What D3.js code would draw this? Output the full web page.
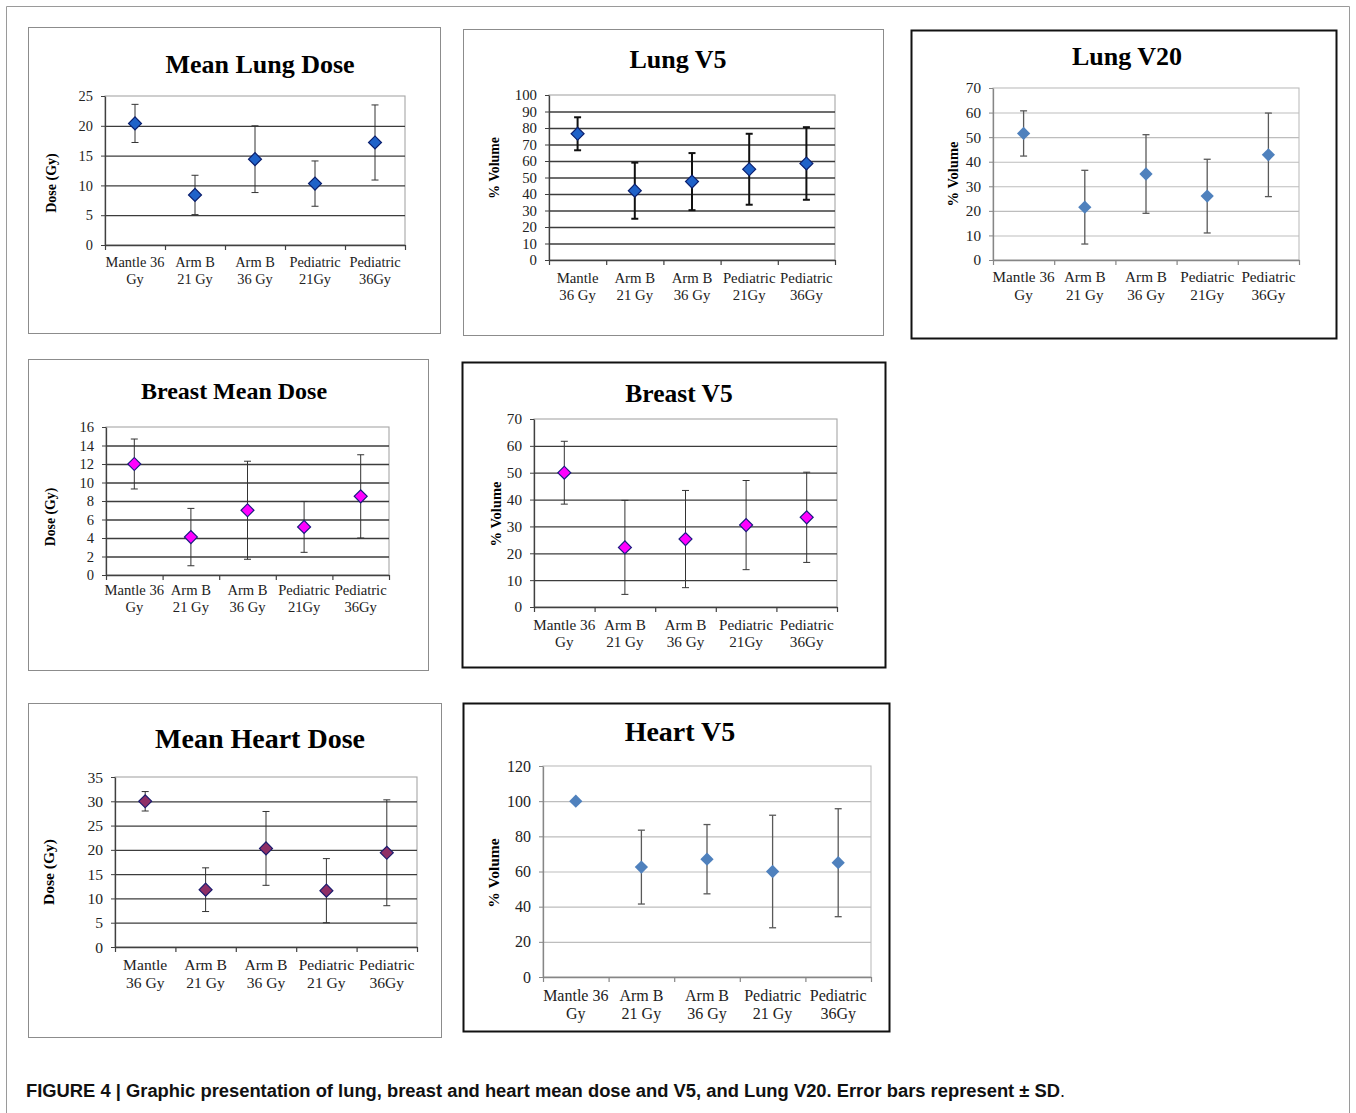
<!DOCTYPE html>
<html>
<head>
<meta charset="utf-8">
<script src="https://cdn.jsdelivr.net/npm/d3@7"></script>
<style>
  body { margin: 0; background: #fff; }
  svg { display: block; }
</style>
</head>
<body>
<svg id="fig" width="1356" height="1113"></svg>
<script>
// category labels (line breaks as in the original panels)
const catsMantleGy   = ["Mantle 36\nGy", "Arm B\n21 Gy", "Arm B\n36 Gy", "Pediatric\n21Gy", "Pediatric\n36Gy"];
const catsMantle36   = ["Mantle\n36 Gy", "Arm B\n21 Gy", "Arm B\n36 Gy", "Pediatric\n21Gy", "Pediatric\n36Gy"];
const catsHeartDose  = ["Mantle\n36 Gy", "Arm B\n21 Gy", "Arm B\n36 Gy", "Pediatric\n21 Gy", "Pediatric\n36Gy"];
const catsHeartV5    = ["Mantle 36\nGy", "Arm B\n21 Gy", "Arm B\n36 Gy", "Pediatric\n21 Gy", "Pediatric\n36Gy"];

// means and SD
const lungDoseMean = [20.4, 8.4, 14.4, 10.3, 17.2];
const lungDoseSD   = [3.2, 3.3, 5.6, 3.8, 6.3];
const lungDoseTicks = [0, 5, 10, 15, 20, 25];

const lungV5Mean = [76.5, 42, 47.5, 55, 58.5];
const lungV5SD   = [10, 17, 17.3, 21.5, 22];
const lungV5Ticks = [0, 10, 20, 30, 40, 50, 60, 70, 80, 90, 100];

const lungV20Mean = [51.5, 21.5, 35, 26, 42.8];
const lungV20SD   = [9.2, 15, 16, 15, 17];
const lungV20Ticks = [0, 10, 20, 30, 40, 50, 60, 70];

const breastDoseMean = [12, 4.1, 7.0, 5.2, 8.5];
const breastDoseSD   = [2.7, 3.1, 5.3, 2.75, 4.5];
const breastDoseTicks = [0, 2, 4, 6, 8, 10, 12, 14, 16];

const breastV5Mean = [50, 22.2, 25.3, 30.5, 33.4];
const breastV5SD   = [11.7, 17.5, 18.1, 16.6, 16.8];
const breastV5Ticks = [0, 10, 20, 30, 40, 50, 60, 70];

const heartDoseMean = [30, 11.8, 20.3, 11.6, 19.4];
const heartDoseSD   = [2, 4.5, 7.6, 6.6, 10.9];
const heartDoseTicks = [0, 5, 10, 15, 20, 25, 30, 35];

const heartV5Mean = [100, 62.5, 67, 60, 65];
const heartV5SD   = [0, 21, 19.7, 32, 30.7];
const heartV5Ticks = [0, 20, 40, 60, 80, 100, 120];

const serif = "'Liberation Serif', 'Times New Roman', serif";

// Excel 2003 look vs Excel 2007 look
const oldStyle = { grid: "#3c3c3c", gridW: 1.3, border: "#a6a6a6", axis: "#404040", bar: "#333", barW: 1, cap: 3.5 };
const newStyle = { grid: "#bdbdbd", gridW: 1.1, border: "#bdbdbd", axis: "#868686", bar: "#595959", barW: 1.3, cap: 3.5 };

const panels = [
  { title: "Mean Lung Dose", ylab: "Dose (Gy)", cats: catsMantleGy, mean: lungDoseMean, sd: lungDoseSD, ticks: lungDoseTicks,
    box: [28, 27, 440, 333], boxColor: "#8c8c8c", boxW: 1,
    plot: [105, 96, 405, 245], titlePos: [260, 73, 26], ylabPos: [51, 183, 14], font: 14.4, cat: [22, 17],
    style: oldStyle, fill: "#1f62c9", stroke: "#0b1f6e" },
  { title: "Lung V5", ylab: "% Volume", cats: catsMantle36, mean: lungV5Mean, sd: lungV5SD, ticks: lungV5Ticks,
    box: [463, 29, 883, 335], boxColor: "#8c8c8c", boxW: 1,
    plot: [549, 95, 835, 260], titlePos: [678, 68, 26], ylabPos: [494, 168, 13.8], font: 14.8, cat: [23, 17],
    style: Object.assign({}, oldStyle, { bar: "#111", barW: 2, cap: 3.5 }), fill: "#1f62c9", stroke: "#0b1f6e" },
  { title: "Lung V20", ylab: "% Volume", cats: catsMantleGy, mean: lungV20Mean, sd: lungV20SD, ticks: lungV20Ticks,
    box: [911, 30, 1336, 338], boxColor: "#111", boxW: 2,
    plot: [993, 88, 1299, 260], titlePos: [1127, 65, 26], ylabPos: [953, 174, 14.5], font: 15.2, cat: [22, 18],
    style: newStyle, fill: "#4f81bd", stroke: "none" },
  { title: "Breast Mean Dose", ylab: "Dose (Gy)", cats: catsMantleGy, mean: breastDoseMean, sd: breastDoseSD, ticks: breastDoseTicks,
    box: [28, 359, 428, 670], boxColor: "#8c8c8c", boxW: 1,
    plot: [106, 427, 389, 575], titlePos: [234, 399, 24], ylabPos: [50, 517, 13.8], font: 14.6, cat: [20, 17],
    style: oldStyle, fill: "#ff00ff", stroke: "#1c1c80" },
  { title: "Breast V5", ylab: "% Volume", cats: catsMantleGy, mean: breastV5Mean, sd: breastV5SD, ticks: breastV5Ticks,
    box: [462, 362, 885, 667], boxColor: "#111", boxW: 2,
    plot: [534, 419, 837, 607], titlePos: [679, 402, 25.5], ylabPos: [496, 514, 14.5], font: 15.2, cat: [23, 17],
    style: oldStyle, fill: "#ff00ff", stroke: "#1c1c80" },
  { title: "Mean Heart Dose", ylab: "Dose (Gy)", cats: catsHeartDose, mean: heartDoseMean, sd: heartDoseSD, ticks: heartDoseTicks,
    box: [28, 703, 441, 1037], boxColor: "#8c8c8c", boxW: 1,
    plot: [115, 777, 417, 947], titlePos: [260, 748, 28], ylabPos: [49, 872, 15.5], font: 15.6, cat: [23, 18],
    style: oldStyle, fill: "#8f2f66", stroke: "#1c1c6e" },
  { title: "Heart V5", ylab: "% Volume", cats: catsHeartV5, mean: heartV5Mean, sd: heartV5SD, ticks: heartV5Ticks,
    box: [463, 703, 889, 1031], boxColor: "#111", boxW: 2,
    plot: [543, 766, 871, 977], titlePos: [680, 741, 28], ylabPos: [494, 873, 15.5], font: 16, cat: [24, 18],
    style: newStyle, fill: "#4f81bd", stroke: "none" }
];

const svg = d3.select("#fig");

// thin frame round the whole figure
svg.append("path")
   .attr("d", "M6.5,1113 V6.5 H1349.5 V1113")
   .attr("fill", "none")
   .attr("stroke", "#9a9a9a")
   .attr("stroke-width", 1);

function drawPanel(p) {
  const g = svg.append("g");
  const [left, top, right, bottom] = p.plot;
  const st = p.style;

  g.append("rect")
    .attr("x", p.box[0] + 0.5).attr("y", p.box[1] + 0.5)
    .attr("width", p.box[2] - p.box[0]).attr("height", p.box[3] - p.box[1])
    .attr("fill", "#fff")
    .attr("stroke", p.boxColor)
    .attr("stroke-width", p.boxW);

  g.append("text")
    .attr("x", p.titlePos[0]).attr("y", p.titlePos[1])
    .attr("text-anchor", "middle")
    .style("font-family", serif).style("font-weight", "bold")
    .style("font-size", p.titlePos[2] + "px")
    .text(p.title);

  let x = d3.scaleBand().domain(p.cats).range([left, right]).padding(0);
  let xEdge = d3.scaleLinear().domain([0, p.cats.length]).range([left, right]);
  let yMax = d3.max(p.ticks);
  let y = d3.scaleLinear().domain([0, yMax]).range([bottom, top]);

  // plot area border (top and right in light grey)
  g.append("rect")
    .attr("x", left).attr("y", top)
    .attr("width", right - left).attr("height", bottom - top)
    .attr("fill", "none")
    .attr("stroke", st.border)
    .attr("stroke-width", 1.1);

  // gridlines
  let grid = g.append("g")
    .attr("transform", "translate(" + left + ",0)")
    .call(d3.axisLeft(y)
      .tickValues(p.ticks.filter(t => t > 0 && t < yMax))
      .tickSize(-(right - left))
      .tickFormat(""));
  grid.select(".domain").remove();
  grid.selectAll("line").attr("stroke", st.grid).attr("stroke-width", st.gridW);

  // y axis
  let yAxis = g.append("g")
    .attr("transform", "translate(" + left + ",0)")
    .call(d3.axisLeft(y).tickValues(p.ticks).tickSize(4).tickPadding(8).tickSizeOuter(0));
  yAxis.select(".domain").attr("stroke", st.axis).attr("stroke-width", 1.3);
  yAxis.selectAll("line").attr("stroke", st.axis);
  yAxis.selectAll("text")
    .style("font-family", serif).style("font-size", p.font + "px").attr("fill", "#222");

  // x axis, ticks on category edges
  let xAxis = g.append("g")
    .attr("transform", "translate(0," + bottom + ")")
    .call(d3.axisBottom(xEdge).tickValues(d3.range(p.cats.length + 1)).tickSize(5).tickFormat("").tickSizeOuter(0));
  xAxis.select(".domain").attr("stroke", st.axis).attr("stroke-width", 1.3);
  xAxis.selectAll("line").attr("stroke", st.axis).attr("stroke-width", 1.2);

  // category labels
  g.selectAll("text.cat")
    .data(p.cats)
    .enter()
    .append("text")
      .attr("class", "cat")
      .attr("text-anchor", "middle")
      .style("font-family", serif).style("font-size", p.font + "px").attr("fill", "#222")
      .each(function (d) {
        let cx = x(d) + x.bandwidth() / 2;
        d.split("\n").forEach((line, i) => {
          d3.select(this).append("tspan")
            .attr("x", cx)
            .attr("y", bottom + p.cat[0] + i * p.cat[1])
            .text(line);
        });
      });

  // y axis title
  g.append("text")
    .attr("transform", "translate(" + p.ylabPos[0] + "," + p.ylabPos[1] + ") rotate(-90)")
    .attr("text-anchor", "middle")
    .attr("dy", "0.35em")
    .style("font-family", serif).style("font-weight", "bold")
    .style("font-size", p.ylabPos[2] + "px")
    .text(p.ylab);

  let rows = p.cats.map((c, i) => ({ cat: c, m: p.mean[i], sd: p.sd[i] }));
  let withBars = rows.filter(r => r.sd > 0);

  // error bars
  let bars = g.selectAll("g.err").data(withBars).enter().append("g")
    .attr("stroke", st.bar).attr("stroke-width", st.barW);
  bars.append("line")
    .attr("x1", d => x(d.cat) + x.bandwidth() / 2)
    .attr("x2", d => x(d.cat) + x.bandwidth() / 2)
    .attr("y1", d => y(d.m - d.sd))
    .attr("y2", d => y(d.m + d.sd));
  [1, -1].forEach(s => {
    bars.append("line")
      .attr("x1", d => x(d.cat) + x.bandwidth() / 2 - st.cap)
      .attr("x2", d => x(d.cat) + x.bandwidth() / 2 + st.cap)
      .attr("y1", d => y(d.m + s * d.sd))
      .attr("y2", d => y(d.m + s * d.sd));
  });

  // diamond markers
  let diamond = d3.symbol().type(d3.symbolSquare).size(p.stroke === "none" ? 88 : 84);
  g.selectAll("path.pt")
    .data(rows)
    .enter()
    .append("path")
      .attr("class", "pt")
      .attr("d", diamond)
      .attr("transform", d => "translate(" + (x(d.cat) + x.bandwidth() / 2) + "," + y(d.m) + ") rotate(45)")
      .attr("fill", p.fill)
      .attr("stroke", p.stroke)
      .attr("stroke-width", 1.2);
}

panels.forEach(drawPanel);

// caption
let cap = svg.append("text")
  .attr("x", 26).attr("y", 1097)
  .style("font-family", "'Liberation Sans Narrow', 'Arial Narrow', 'Liberation Sans', Arial, sans-serif")
  .style("font-size", "18px")
  .attr("fill", "#111");
cap.append("tspan").style("font-weight", "bold")
  .attr("textLength", 1034)
  .attr("lengthAdjust", "spacingAndGlyphs")
  .text("FIGURE 4 | Graphic presentation of lung, breast and heart mean dose and V5, and Lung V20. Error bars represent \u00b1 SD");
cap.append("tspan").text(".");
</script>
</body>
</html>
